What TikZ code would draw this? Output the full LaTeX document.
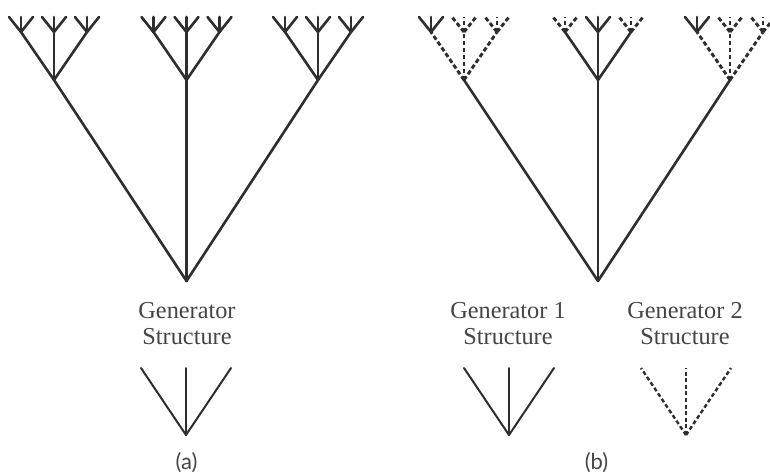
\documentclass[tikz,border=0pt]{standalone}
\usepackage{fontspec}
\setmainfont{Liberation Serif}
\newfontfamily\capfont{Lato}
\definecolor{ink}{HTML}{2E2E2E}
\definecolor{textgray}{HTML}{454545}
\begin{document}
\begin{tikzpicture}[x=1pt, y=-1pt,
  branch/.style={draw=ink, line width=2.6pt, line cap=round},
  dashbranch/.style={draw=ink, line width=2.9pt, dash pattern=on 4.4pt off 2.6pt},
  genline/.style={draw=ink, line width=2pt, line cap=round},
  gendash/.style={draw=ink, line width=2.4pt, dash pattern=on 4pt off 2.6pt},
  label/.style={font=\fontsize{24.3}{26}\selectfont, text=textgray, align=center, inner sep=0pt, anchor=north},
  caption/.style={font=\capfont\fontsize{22}{24}\selectfont, text=textgray, inner sep=0pt}]
  \useasboundingbox (0,0) rectangle (770,474);

  % three-level fractal trees: root, first, second level vertices and tips
  \foreach \p/\rx/\lx/\mx/\ux in {a/186.5/54/186.5/318, b/598/464/598/730} {
    \coordinate (\p-root) at (\rx,281);
    \coordinate (\p-1) at (\lx,80);
    \coordinate (\p-2) at (\mx,80);
    \coordinate (\p-3) at (\ux,80);
    \foreach \i in {1,2,3} {
      \path (\p-\i) ++(-33,-48) coordinate (\p-\i-1);
      \path (\p-\i) ++(0,-48) coordinate (\p-\i-2);
      \path (\p-\i) ++(33,-48) coordinate (\p-\i-3);
      \foreach \j in {1,2,3} {
        \path (\p-\i-\j) ++(-12,-15) coordinate (\p-\i-\j-1);
        \path (\p-\i-\j) ++(0,-15) coordinate (\p-\i-\j-2);
        \path (\p-\i-\j) ++(12,-15) coordinate (\p-\i-\j-3);
      }
    }
  }

  % tree (a): every branch drawn with the single generator
  \foreach \i in {1,2,3} {
    \draw[branch] (a-root) -- (a-\i);
    \foreach \j in {1,2,3} {
      \draw[branch] (a-\i) -- (a-\i-\j);
      \foreach \k in {1,2,3}
        \draw[branch] (a-\i-\j) -- (a-\i-\j-\k);
    }
  }

  % tree (b): solid = generator 1, dashed = generator 2
  \foreach \i in {1,2,3}
    \draw[branch] (b-root) -- (b-\i);
  \foreach \i/\s in {1/dashbranch, 2/branch, 3/dashbranch}
    \foreach \j in {1,2,3}
      \draw[\s] (b-\i) -- (b-\i-\j);
  \foreach \i/\j/\s in {1/1/branch, 1/2/dashbranch, 1/3/dashbranch,
                        2/1/dashbranch, 2/2/branch, 2/3/dashbranch,
                        3/1/branch, 3/2/dashbranch, 3/3/dashbranch}
    \foreach \k in {1,2,3}
      \draw[\s] (b-\i-\j) -- (b-\i-\j-\k);

  % generator structures
  \foreach \g/\gx in {ga/186, g1/509, g2/686} {
    \coordinate (\g) at (\gx,435);
    \coordinate (\g-l) at (\gx-45,368);
    \coordinate (\g-m) at (\gx,368);
    \coordinate (\g-r) at (\gx+45,368);
  }
  \foreach \t in {l,m,r} {
    \draw[genline] (ga) -- (ga-\t);
    \draw[genline] (g1) -- (g1-\t);
    \draw[gendash] (g2) -- (g2-\t);
  }

  % labels
  \node[label] (lab-a) at (187,302.5) {Generator\\Structure};
  \node[label] (lab-1) at (508,302.5) {Generator 1\\Structure};
  \node[label] (lab-2) at (685,302.5) {Generator 2\\Structure};
  \node[caption] (cap-a) at (186.5,463) {(a)};
  \node[caption] (cap-b) at (596.5,463) {(b)};
\end{tikzpicture}
\end{document}
